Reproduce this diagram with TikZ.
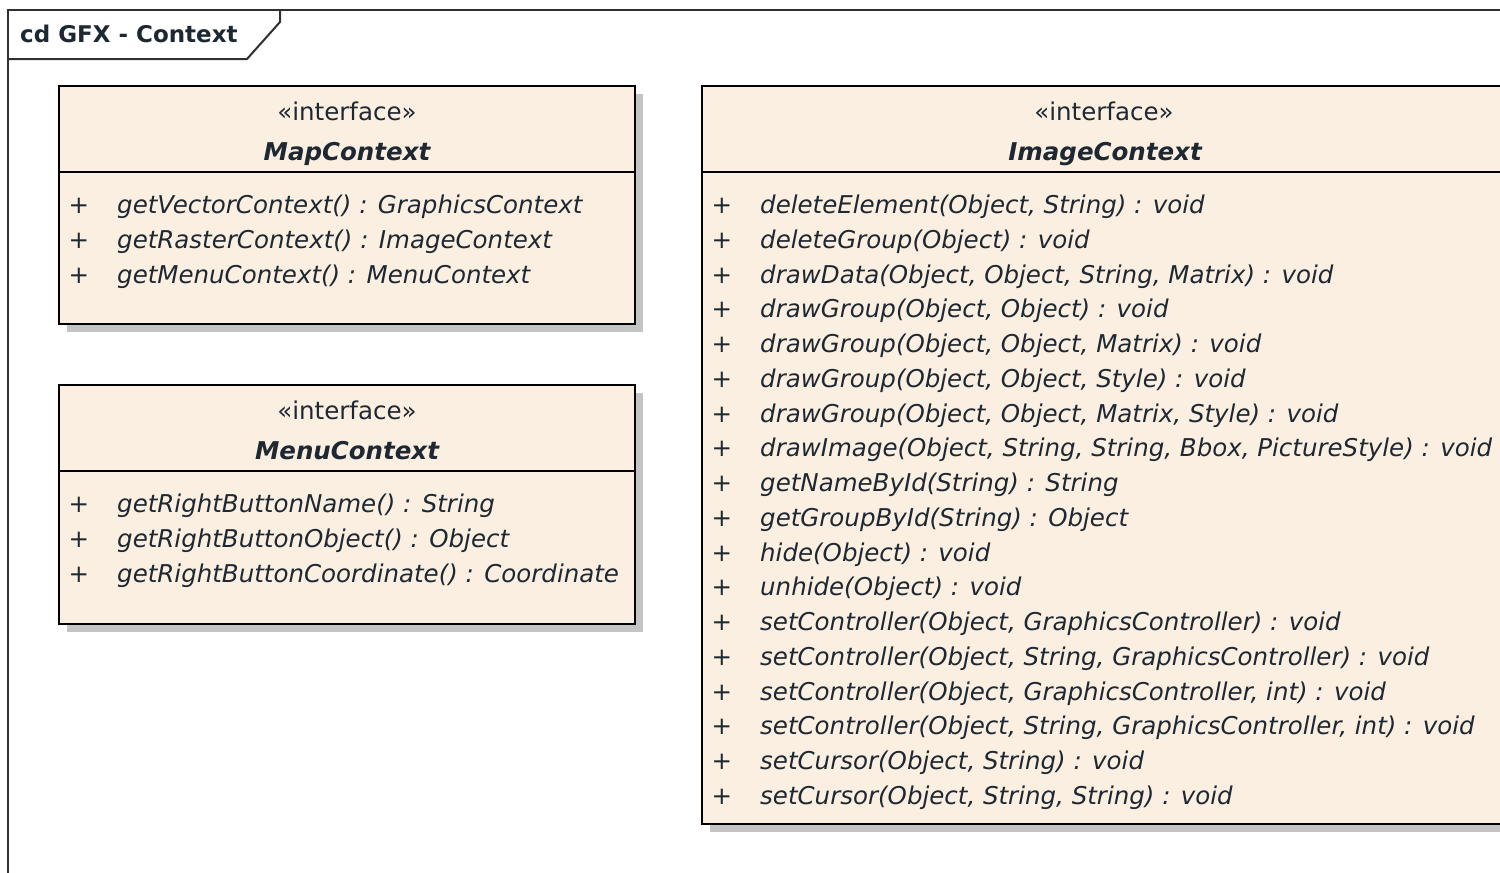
\documentclass[tikz,border=0pt]{standalone}
\usepackage{fontspec}
\setmainfont{DejaVu Sans}
\definecolor{boxfill}{HTML}{FBEFE1}
\definecolor{shadowc}{HTML}{C4C4C4}
\definecolor{txt}{HTML}{1E2832}
\definecolor{framec}{HTML}{303030}
\begin{document}
\begin{tikzpicture}[x=1pt,y=-1pt,
  umlbox/.style={draw=black, line width=2pt, fill=boxfill, anchor=north west, inner sep=0pt, outer sep=0pt},
  shadowbox/.style={fill=shadowc, draw=none, anchor=north west, inner sep=0pt, outer sep=0pt},
  divider/.style={draw=black, line width=2pt},
  stereo/.style={anchor=base, inner sep=0pt, text=txt, font=\fontsize{24.5}{29}\selectfont},
  cname/.style={anchor=base, inner sep=0pt, text=txt, font=\fontsize{24.5}{29}\selectfont\bfseries\itshape},
  meth/.style={anchor=base west, inner sep=0pt, text=txt, font=\fontsize{24.5}{29}\selectfont\itshape},
  vis/.style={anchor=base, inner sep=0pt, text=txt, font=\fontsize{24.5}{29}\selectfont},
  frameline/.style={draw=framec, line width=2pt}
]
\useasboundingbox (0,0) rectangle (1500,873);
\clip (0,0) rectangle (1500,873);
\fill[white] (0,0) rectangle (1500,873);

% frame
\draw[frameline] (8,880) -- (8,10) -- (1510,10);
\draw[frameline] (280,10) -- (280,22) -- (247,59) -- (8,59);
\node[anchor=base west, inner sep=0pt, text=txt, font=\fontsize{23}{28}\selectfont\bfseries] (title) at (20,42) {cd GFX - Context};

% ---------- MapContext ----------
\node[shadowbox, minimum width=576pt, minimum height=238pt] (mapsh) at (67,94) {};
\node[umlbox, minimum width=576pt, minimum height=238pt] (map) at (59,86) {};
\draw[divider] (59,172) -- (635,172);
\node[stereo] (mapst) at (347,120) {«interface»};
\node[cname] (mapname) at (347,160.5) {MapContext};
\foreach \t [count=\i] in {{getVectorContext() : GraphicsContext},{getRasterContext() : ImageContext},{getMenuContext() : MenuContext}}{
  \pgfmathsetmacro{\yy}{213.5+34.8*(\i-1)}
  \node[vis] (mapp\i) at (79,\yy) {+};
  \node[meth] (mapm\i) at (117,\yy) {\t};
}

% ---------- MenuContext ----------
\node[shadowbox, minimum width=576pt, minimum height=239pt] (menush) at (67,393) {};
\node[umlbox, minimum width=576pt, minimum height=239pt] (menu) at (59,385) {};
\draw[divider] (59,471) -- (635,471);
\node[stereo] (menust) at (347,419) {«interface»};
\node[cname] (menuname) at (347,459.5) {MenuContext};
\foreach \t [count=\i] in {{getRightButtonName() : String},{getRightButtonObject() : Object},{getRightButtonCoordinate() : Coordinate}}{
  \pgfmathsetmacro{\yy}{512.5+34.8*(\i-1)}
  \node[vis] (menup\i) at (79,\yy) {+};
  \node[meth] (menum\i) at (117,\yy) {\t};
}

% ---------- ImageContext ----------
\node[shadowbox, minimum width=804pt, minimum height=738pt] (imgsh) at (710,94) {};
\node[umlbox, minimum width=804pt, minimum height=738pt] (img) at (702,86) {};
\draw[divider] (702,172) -- (1506,172);
\node[stereo] (imgst) at (1104,120) {«interface»};
\node[cname] (imgname) at (1105,160.5) {ImageContext};
\foreach \t [count=\i] in {
  {deleteElement(Object, String) : void},
  {deleteGroup(Object) : void},
  {drawData(Object, Object, String, Matrix) : void},
  {drawGroup(Object, Object) : void},
  {drawGroup(Object, Object, Matrix) : void},
  {drawGroup(Object, Object, Style) : void},
  {drawGroup(Object, Object, Matrix, Style) : void},
  {drawImage(Object, String, String, Bbox, PictureStyle) : void},
  {getNameById(String) : String},
  {getGroupById(String) : Object},
  {hide(Object) : void},
  {unhide(Object) : void},
  {setController(Object, GraphicsController) : void},
  {setController(Object, String, GraphicsController) : void},
  {setController(Object, GraphicsController, int) : void},
  {setController(Object, String, GraphicsController, int) : void},
  {setCursor(Object, String) : void},
  {setCursor(Object, String, String) : void}}{
  \pgfmathsetmacro{\yy}{213.5+34.75*(\i-1)}
  \node[vis] (imgp\i) at (722,\yy) {+};
  \node[meth] (imgm\i) at (760,\yy) {\t};
}
\end{tikzpicture}
\end{document}
